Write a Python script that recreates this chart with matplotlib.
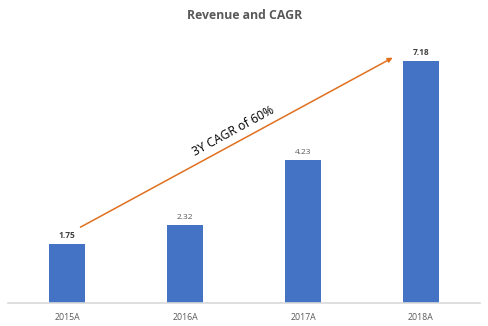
import matplotlib
matplotlib.use('Agg')
import matplotlib.pyplot as plt

# Data
years = ['2015A', '2016A', '2017A', '2018A']
revenue = [1.75, 2.32, 4.23, 7.18]
bold_labels = [True, False, False, True]
cagr_text = '3Y CAGR of 60%'

plt.rcParams['font.family'] = ['Open Sans', 'DejaVu Sans']

fig = plt.figure(figsize=(4.89, 3.26), dpi=100)
ax = fig.add_axes([8 / 489, 23 / 326, 472 / 489, 1 - 23 / 326 - 33.4 / 326])

x = range(len(years))
bars = ax.bar(x, revenue, width=0.31, color='#4472C4')

# value labels
for xi, v, b in zip(x, revenue, bold_labels):
    ax.text(xi, v + 0.12, f'{v:.2f}', ha='center', va='bottom', fontsize=6,
            color='#404040' if b else '#595959', fontweight='bold' if b else 'normal')

ax.set_xlim(-0.5, 3.5)
ax.set_ylim(0, 8)
ax.set_xticks(list(x))
ax.set_xticklabels(years, fontsize=6.3, color='#595959')
ax.tick_params(axis='x', length=0, pad=7.5)
ax.set_yticks([])
for s in ['top', 'right', 'left']:
    ax.spines[s].set_visible(False)
ax.spines['bottom'].set_color('#D9D9D9')
ax.spines['bottom'].set_linewidth(1.2)

# CAGR arrow
ax.annotate('', xy=(2.76, 7.28), xytext=(0.114, 2.25),
            arrowprops=dict(arrowstyle='-|>', color='#E0701E', lw=1.1,
                            mutation_scale=7, shrinkA=0, shrinkB=0))
ax.text(1.41, 5.09, cagr_text, rotation=28.6, rotation_mode='anchor',
        ha='center', va='center', fontsize=8.8, color='black')

fig.text(0.5, 1 - 15.5 / 326, 'Revenue and CAGR', ha='center', va='center',
         fontsize=8.8, fontweight='bold', color='#595959')

fig.savefig('out.png', dpi=100)
